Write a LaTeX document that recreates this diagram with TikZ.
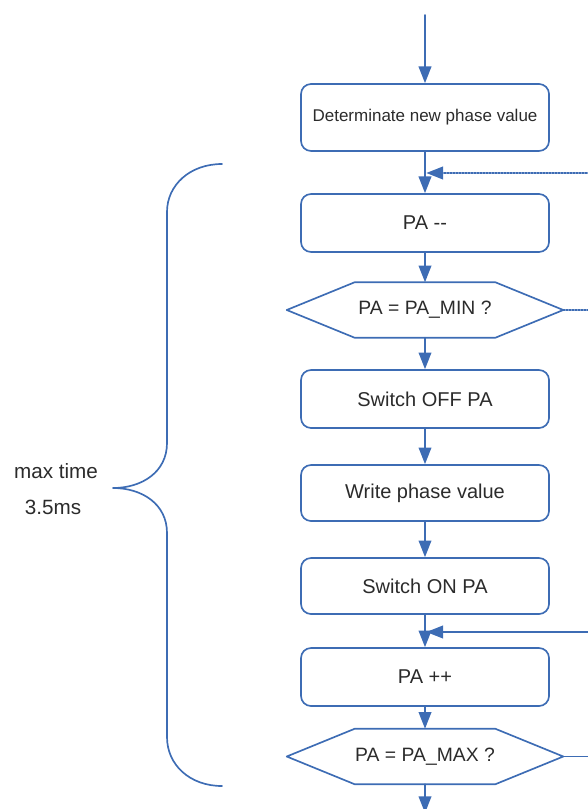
\documentclass[tikz,border=0pt]{standalone}
\usepackage{fontspec}
\setmainfont{Liberation Sans}
\usetikzlibrary{arrows.meta}
\definecolor{flowblue}{HTML}{3D6CB4}
\definecolor{flowtext}{HTML}{2B2B2B}

\begin{document}
\begin{tikzpicture}[x=0.75pt,y=-0.75pt,line cap=round,line join=round,
  conn/.style={draw=flowblue,line width=1.25pt},
  flowarrow/.style={conn,-{Triangle[length=12.5pt,width=9.5pt]}},
  procbox/.style={draw=flowblue,line width=1.25pt,rounded corners=7.5pt,minimum width=186pt,minimum height=43.5pt,text=flowtext,font=\fontsize{15}{18}\selectfont},
  decision/.style={minimum width=207pt,minimum height=41.25pt,inner sep=0pt,text=flowtext,font=\fontsize{14.5}{17}\selectfont},
  note/.style={text=flowtext,font=\fontsize{15.5}{18}\selectfont}]
\path[use as bounding box] (0,0) rectangle (587,809);
\coordinate (entry) at (425,15);
\coordinate (exit) at (425,813);
\coordinate (loopa) at (590,173);
\coordinate (loopb) at (590,632);
\coordinate (minout) at (590,310);
\coordinate (maxout) at (590,756.5);
\node[procbox,minimum height=50.25pt,font=\fontsize{12.75}{15}\selectfont] (newphase) at (425,117.5) {Determinate new phase value};
\node[procbox] (padec) at (425,223) {PA -{}-};
\node[decision] (dmin) at (425,310) {PA = PA\_MIN ?};
\node[procbox] (paoff) at (425,399) {Switch OFF PA};
\node[procbox,minimum height=42pt] (wphase) at (425,493) {Write phase value};
\node[procbox,minimum height=42pt] (paon) at (425,586) {Switch ON PA};
\node[procbox] (painc) at (425,677) {PA ++};
\node[decision] (dmax) at (425,756.5) {PA = PA\_MAX ?};
\foreach \d in {dmin,dmax}
  \draw[conn] (\d.west) -- ([xshift=51pt]\d.north west) -- ([xshift=-51pt]\d.north east) -- (\d.east) -- ([xshift=-51pt]\d.south east) -- ([xshift=51pt]\d.south west) -- cycle;
\draw[flowarrow] (entry) -- (newphase);
\draw[flowarrow] (newphase) -- (padec);
\draw[flowarrow] (padec) -- (dmin);
\draw[flowarrow] (dmin) -- (paoff);
\draw[flowarrow] (paoff) -- (wphase);
\draw[flowarrow] (wphase) -- (paon);
\draw[flowarrow] (paon) -- (painc);
\draw[flowarrow] (painc) -- (dmax);
\draw[flowarrow] (dmax) -- (exit);
\draw[flowarrow,densely dotted] (loopa) -- ([xshift=1pt]loopa -| padec.north);
\draw[flowarrow] (loopb) -- ([xshift=1pt]loopb -| painc.north);
\draw[conn,densely dotted] (dmin.east) -- (minout);
\draw[conn] (dmax.east) -- (maxout);
\draw[conn] (222,164) .. controls (190,164) and (167,185) .. (167,212) -- (167,443)
  .. controls (167,472) and (142,488) .. (113,488)
  .. controls (142,488) and (167,504) .. (167,533) -- (167,737)
  .. controls (167,765) and (190,786) .. (222,786);
\node[note] (maxtime) at (56,471) {max time};
\node[note] (duration) at (53,507) {3.5ms};
\end{tikzpicture}
\end{document}
